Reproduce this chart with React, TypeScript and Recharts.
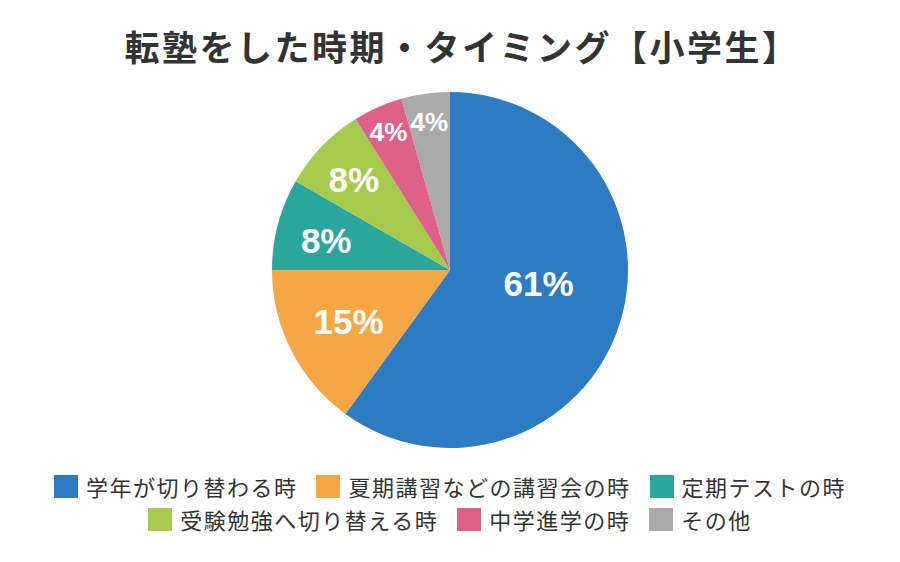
import React from 'react';
import { PieChart, Pie, Cell, Legend } from 'recharts';

const categories = [
  '学年が切り替わる時',
  '夏期講習などの講習会の時',
  '定期テストの時',
  '受験勉強へ切り替える時',
  '中学進学の時',
  'その他',
];
const shares = [60, 15, 8.3, 7.8, 4.5, 4.4];
const shareLabels = ['61%', '15%', '8%', '8%', '4%', '4%'];
const colors = ['#2d7bc3', '#f6a745', '#2aa69c', '#a6ca4b', '#df6089', '#aaaaaa'];

const data = categories.map((name, i) => ({ name, value: shares[i] }));

const RAD = Math.PI / 180;
const labelRadius = [0.5, 0.64, 0.72, 0.75, 0.85, 0.84];
const labelNudgeY = [-14, 0, 4, 2, 0, 0];
const jpFont = '"Noto Sans CJK JP", "Noto Sans", sans-serif';

const renderLabel = (props: any) => {
  const { cx, cy, midAngle, outerRadius, index, percent } = props;
  const r = outerRadius * labelRadius[index];
  const x = cx + r * Math.cos(-midAngle * RAD) + (index === 0 ? 4 : 0);
  const y = cy + r * Math.sin(-midAngle * RAD) + labelNudgeY[index];
  return (
    <text
      x={x}
      y={y}
      fill="#ffffff"
      textAnchor="middle"
      dominantBaseline="central"
      fontFamily='"Liberation Sans", Arial, sans-serif'
      fontWeight={700}
      fontSize={percent < 0.06 ? 26 : 35}
    >
      {shareLabels[index]}
    </text>
  );
};

const renderLegend = () => (
  <div
    style={{
      display: 'flex',
      flexWrap: 'wrap',
      justifyContent: 'center',
      rowGap: 10,
      columnGap: 19,
      fontFamily: jpFont,
      fontSize: 22,
      letterSpacing: 1.5,
      color: '#333333',
    }}
  >
    {categories.map((name, i) => (
      <div key={name} style={{ display: 'flex', alignItems: 'center', height: 23 }}>
        <span style={{ width: 24, height: 23, background: colors[i], marginRight: 8, display: 'inline-block' }} />
        <span style={{ lineHeight: '23px' }}>{name}</span>
      </div>
    ))}
  </div>
);

export default function App() {
  return (
    <div style={{ position: 'relative', width: 900, height: 562, background: '#ffffff' }}>
      <style>{'body{margin:0}'}</style>
      <div
        style={{
          position: 'absolute',
          top: 25,
          left: 12,
          width: 900,
          textAlign: 'center',
          fontFamily: jpFont,
          fontWeight: 700,
          fontSize: 35,
          letterSpacing: 2.5,
          lineHeight: '42px',
          color: '#333333',
        }}
      >
        転塾をした時期・タイミング【小学生】
      </div>
      <PieChart width={900} height={562}>
        <Pie
          data={data}
          dataKey="value"
          nameKey="name"
          cx={445}
          cy={265}
          outerRadius={178}
          startAngle={90}
          endAngle={-270}
          stroke="none"
          label={renderLabel}
          labelLine={false}
          isAnimationActive={false}
        >
          {data.map((d, i) => (
            <Cell key={d.name} fill={colors[i]} />
          ))}
        </Pie>
        <Legend
          content={renderLegend}
          wrapperStyle={{ position: 'absolute', top: 475, left: 10, width: 880 }}
        />
      </PieChart>
    </div>
  );
}
